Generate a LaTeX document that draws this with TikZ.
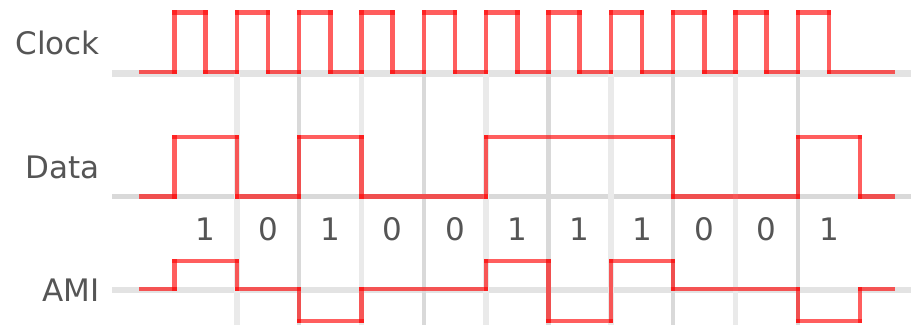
\documentclass[tikz,border=0pt]{standalone}
\usepackage{fontspec}
\setmainfont{DejaVu Sans}
\definecolor{txt}{HTML}{555555}
\definecolor{gA}{HTML}{D9D9D9}
\definecolor{gB}{HTML}{EAEAEA}
\definecolor{gH}{HTML}{E3E3E3}
\tikzset{
  sig/.style={draw=red, draw opacity=0.63, line width=4.5pt, line cap=rect},
  lbl/.style={text=txt, font=\fontsize{31}{36}\selectfont, inner sep=0pt},
  gridA/.style={draw=gA, line width=4.5pt},
  gridB/.style={draw=gB, line width=5.5pt},
}
\newcommand\sg[2]{\draw[sig] #1 -- #2;}
\begin{document}
\begin{tikzpicture}[x=1pt,y=-1pt]
\useasboundingbox (0,0) rectangle (911,325);
% grey base lines
\draw[draw=gH, line width=6.5pt] (112,73.5) -- (911,73.5);
\draw[draw=gA, line width=5pt] (112,196.5) -- (911,196.5);
\draw[draw=gH, line width=6.5pt] (112,290) -- (911,290);
% grey vertical lines at bit boundaries
\foreach \k in {1,3,5,7,9}{
  \pgfmathsetmacro\xv{174.5+\k*62.33}
  \draw[gridB] (\xv,72) -- (\xv,325);
}
\foreach \k in {2,4,6,8,10}{
  \pgfmathsetmacro\xv{174.5+\k*62.33}
  \draw[gridA] (\xv,72) -- (\xv,325);
}
% clock
\sg{(141,72)}{(174.5,72)}
\foreach \k in {0,...,10}{
  \pgfmathsetmacro\r{174.5+\k*62.33}
  \pgfmathsetmacro\f{\r+31.165}
  \pgfmathsetmacro\n{\k<10 ? \r+62.33 : 893}
  \draw[sig] (\r,72) -- (\r,12.5);
  \draw[sig] (\r,12.5) -- (\f,12.5);
  \draw[sig] (\f,12.5) -- (\f,72);
  \draw[sig] (\f,72) -- (\n,72);
}
% data
\sg{(141,196.5)}{(174.5,196.5)}
\sg{(174.5,196.5)}{(174.5,137)}
\sg{(174.5,137)}{(236.83,137)}
\sg{(236.83,137)}{(236.83,196.5)}
\sg{(236.83,196.5)}{(299.16,196.5)}
\sg{(299.16,196.5)}{(299.16,137)}
\sg{(299.16,137)}{(361.49,137)}
\sg{(361.49,137)}{(361.49,196.5)}
\sg{(361.49,196.5)}{(486.15,196.5)}
\sg{(486.15,196.5)}{(486.15,137)}
\sg{(486.15,137)}{(673.14,137)}
\sg{(673.14,137)}{(673.14,196.5)}
\sg{(673.14,196.5)}{(797.8,196.5)}
\sg{(797.8,196.5)}{(797.8,137)}
\sg{(797.8,137)}{(860.13,137)}
\sg{(860.13,137)}{(860.13,196.5)}
\sg{(860.13,196.5)}{(893,196.5)}
% AMI
\sg{(141,289)}{(174.5,289)}
\sg{(174.5,289)}{(174.5,261)}
\sg{(174.5,261)}{(236.83,261)}
\sg{(236.83,261)}{(236.83,289)}
\sg{(236.83,289)}{(299.16,289)}
\sg{(299.16,289)}{(299.16,321)}
\sg{(299.16,321)}{(361.49,321)}
\sg{(361.49,321)}{(361.49,289)}
\sg{(361.49,289)}{(486.15,289)}
\sg{(486.15,289)}{(486.15,261)}
\sg{(486.15,261)}{(548.48,261)}
\sg{(548.48,261)}{(548.48,321)}
\sg{(548.48,321)}{(610.81,321)}
\sg{(610.81,321)}{(610.81,261)}
\sg{(610.81,261)}{(673.14,261)}
\sg{(673.14,261)}{(673.14,289)}
\sg{(673.14,289)}{(797.8,289)}
\sg{(797.8,289)}{(797.8,321)}
\sg{(797.8,321)}{(860.13,321)}
\sg{(860.13,321)}{(860.13,289)}
\sg{(860.13,289)}{(893,289)}
% labels
\node[lbl, anchor=east] (clk) at (100,42.5) {Clock};
\node[lbl, anchor=east] (dat) at (100,167) {Data};
\node[lbl, anchor=east] (ami) at (100,290) {AMI};
% bits
\foreach \b [count=\i from 0] in {1,0,1,0,0,1,1,1,0,0,1}{
  \pgfmathsetmacro\xc{174.5+\i*62.33+31.165}
  \node[lbl] (bit\i) at (\xc,229) {\b};
}
\end{tikzpicture}
\end{document}
